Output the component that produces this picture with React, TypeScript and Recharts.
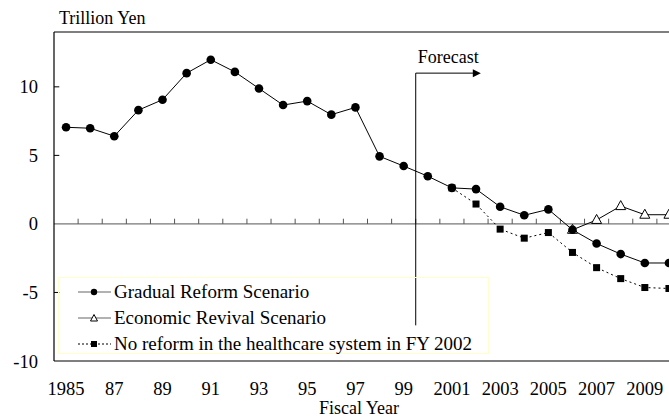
import { LineChart, Line, XAxis, YAxis, ReferenceLine, ReferenceDot } from "recharts";

const years = [
    1985, 1986, 1987, 1988, 1989, 1990, 1991, 1992, 1993, 1994, 1995, 1996, 1997,
    1998, 1999, 2000, 2001, 2002, 2003, 2004, 2005, 2006, 2007, 2008, 2009, 2010,
];
const gradualReform = [
    7.05, 6.98, 6.4, 8.3, 9.06, 11.0, 11.98, 11.09, 9.88, 8.67, 8.96, 7.97, 8.5,
    4.93, 4.22, 3.48, 2.63, 2.54, 1.25, 0.63, 1.06, -0.43, -1.43, -2.2, -2.85, -2.85,
];
const economicRevival = [
    null, null, null, null, null, null, null, null, null, null, null, null, null,
    null, null, null, null, null, null, null, null, -0.43, 0.29, 1.3, 0.67, 0.67,
];
const noReform = [
    null, null, null, null, null, null, null, null, null, null, null, null, null,
    null, null, null, 2.63, 1.45, -0.38, -1.04, -0.63, -2.08, -3.19, -3.99, -4.64, -4.71,
];
const xTicks = [1985, 1987, 1989, 1991, 1993, 1995, 1997, 1999, 2001, 2003, 2005, 2007, 2009];
const yTicks = [-10, -5, 0, 5, 10];
const yearBoundaries = years.slice(0, -1).map((y) => y + 0.5);

const data = years.map((year, i) => ({
    year,
    gradual: gradualReform[i],
    revival: economicRevival[i],
    noReform: noReform[i],
}));

const font = "'Liberation Serif', 'Times New Roman', serif";

const formatYear = (y: number) => (y === 1985 || y >= 2000 ? String(y) : String(y).slice(2));

const circleDot = (props: any) => {
    const { cx, cy, index } = props;
    if (cx == null || cy == null) return <g key={`c${index}`} />;
    return <circle key={`c${index}`} cx={cx} cy={cy} r={4.3} fill="#000" />;
};

const triangleDot = (props: any) => {
    const { cx, cy, index } = props;
    if (cx == null || cy == null) return <g key={`t${index}`} />;
    return (
        <polygon
            key={`t${index}`}
            points={`${cx},${cy - 5.5} ${cx - 5},${cy + 3.5} ${cx + 5},${cy + 3.5}`}
            fill="#fff"
            stroke="#000"
            strokeWidth={1}
        />
    );
};

const squareDot = (props: any) => {
    const { cx, cy, index } = props;
    if (cx == null || cy == null) return <g key={`s${index}`} />;
    return <rect key={`s${index}`} x={cx - 3.5} y={cy - 3.5} width={7} height={7} fill="#000" />;
};

const arrowShape = (props: any) => {
    const { x1, y1, x2, y2 } = props;
    return (
        <g>
            <line x1={x1} y1={y1} x2={x2 - 6} y2={y2} stroke="#000" strokeWidth={1} />
            <polygon points={`${x2},${y2} ${x2 - 8},${y2 - 4} ${x2 - 8},${y2 + 4}`} fill="#000" />
        </g>
    );
};

const legendItems = [
    { label: "Gradual Reform Scenario", kind: "circle" },
    { label: "Economic Revival Scenario", kind: "triangle" },
    { label: "No reform in the healthcare system in FY 2002", kind: "square" },
];

const LegendSample = ({ kind }: { kind: string }) => (
    <svg width={34} height={12} style={{ marginRight: 2 }}>
        <line
            x1={0}
            y1={6}
            x2={33}
            y2={6}
            stroke={kind === "square" ? "#000" : "#666"}
            strokeWidth={1.2}
            strokeDasharray={kind === "square" ? "2 2" : undefined}
        />
        {kind === "circle" && <circle cx={16} cy={6} r={3.2} fill="#000" />}
        {kind === "triangle" && <polygon points="16,2.5 12.5,9 19.5,9" fill="#fff" stroke="#000" strokeWidth={1} />}
        {kind === "square" && <rect x={13} y={3} width={6} height={6} fill="#000" />}
    </svg>
);

export default function App() {
    return (
        <div style={{ position: "absolute", left: 0, top: 0, width: 669, height: 417, overflow: "hidden", background: "#fff", fontFamily: font }}>
            <div style={{ position: "absolute", left: 59, top: 7, fontSize: 18, lineHeight: "22px", color: "#000" }}>Trillion Yen</div>
            <div style={{ position: "absolute", left: 290, width: 138, top: 400, fontSize: 18, lineHeight: "17px", textAlign: "center", color: "#000" }}>
                Fiscal Year
            </div>
            <LineChart width={700} height={417} data={data} margin={{ top: 32, right: 19, bottom: 0, left: 0 }}>
                <XAxis
                    dataKey="year"
                    type="number"
                    domain={[1984.5, 2010.5]}
                    ticks={xTicks}
                    tickFormatter={formatYear}
                    interval={0}
                    height={56}
                    tickLine={false}
                    tickMargin={15}
                    axisLine={{ stroke: "#000", strokeWidth: 1.2 }}
                    tick={{ fill: "#000", fontSize: 18.5, fontFamily: font }}
                />
                <YAxis
                    type="number"
                    domain={[-10, 14]}
                    ticks={yTicks}
                    interval={0}
                    width={54}
                    tickLine={false}
                    tickMargin={10}
                    axisLine={{ stroke: "#000", strokeWidth: 1.2 }}
                    tick={{ fill: "#000", fontSize: 18.5, fontFamily: font }}
                />
                <ReferenceLine y={14} stroke="#000" strokeWidth={1.2} />
                <ReferenceLine y={0} stroke="#555" strokeWidth={1} />
                {yearBoundaries.map((x) => (
                    <ReferenceLine key={`xt${x}`} segment={[{ x, y: 0 }, { x, y: 0.38 }]} stroke="#555" strokeWidth={1} />
                ))}
                {[10, 5, -5].map((y) => (
                    <ReferenceLine key={`yt${y}`} segment={[{ x: 1984.5, y }, { x: 1984.72, y }]} stroke="#000" strokeWidth={1} />
                ))}
                <ReferenceLine segment={[{ x: 1999.5, y: -7.4 }, { x: 1999.5, y: 11.0 }]} stroke="#000" strokeWidth={1} />
                <ReferenceLine segment={[{ x: 1999.5, y: 11.0 }, { x: 2002.2, y: 11.0 }]} shape={arrowShape} />
                <ReferenceDot
                    x={2000.85}
                    y={12.2}
                    r={0}
                    fill="none"
                    stroke="none"
                    label={{ value: "Forecast", position: "center", fill: "#000", fontSize: 18, fontFamily: font }}
                />
                <Line
                    dataKey="noReform"
                    stroke="#000"
                    strokeWidth={1}
                    strokeDasharray="2 3"
                    dot={squareDot}
                    activeDot={false}
                    isAnimationActive={false}
                />
                <Line
                    dataKey="revival"
                    stroke="#000"
                    strokeWidth={1}
                    dot={triangleDot}
                    activeDot={false}
                    isAnimationActive={false}
                />
                <Line
                    dataKey="gradual"
                    stroke="#000"
                    strokeWidth={1}
                    dot={circleDot}
                    activeDot={false}
                    isAnimationActive={false}
                />
            </LineChart>
            <div
                style={{
                    position: "absolute",
                    left: 58,
                    top: 277,
                    width: 431,
                    height: 77,
                    border: "1px solid #ffffcc",
                    boxSizing: "border-box",
                    paddingLeft: 19,
                    paddingTop: 1,
                }}
            >
                {legendItems.map((item) => (
                    <div key={item.label} style={{ display: "flex", alignItems: "center", height: 26, fontSize: 19, color: "#000", whiteSpace: "nowrap" }}>
                        <LegendSample kind={item.kind} />
                        <span>{item.label}</span>
                    </div>
                ))}
            </div>
        </div>
    );
}
